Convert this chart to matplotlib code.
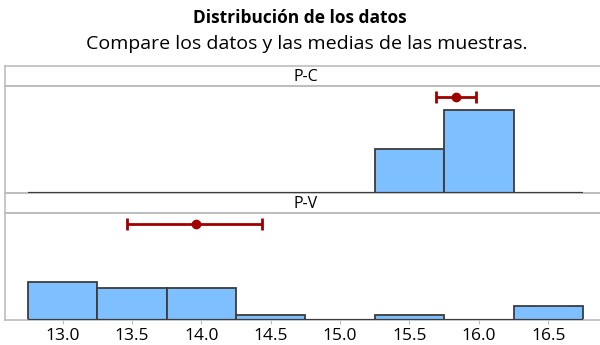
import numpy as np
import matplotlib
matplotlib.use("Agg")
import matplotlib.pyplot as plt

plt.rcParams['font.family'] = ['Open Sans', 'DejaVu Sans']

# bin centres shared by both groups (width 0.5)
bins = [13.0, 13.5, 14.0, 14.5, 15.0, 15.5, 16.0, 16.5]
groups = ['P-C', 'P-V']
# percentage of each group falling in every bin
pct_pc = [0, 0, 0, 0, 0, 34.8, 65.2, 0]
pct_pv = [30.0, 25.0, 25.0, 4.0, 0, 4.0, 0, 11.0]
# sample means and 95% CI for the mean
means = [15.835, 13.96]
ci_low = [15.693, 13.466]
ci_high = [15.982, 14.44]

tick_vals = [13.0, 13.5, 14.0, 14.5, 15.0, 15.5, 16.0, 16.5]
tick_labels = ['13.0', '13.5', '14.0', '14.5', '15.0', '15.5', '16.0', '16.5']

bar_color = '#7dbfff'
edge_color = '#3c3c3c'
ci_color = '#a00000'
frame_color = '#bdbdbd'

W, H = 600, 345
fig = plt.figure(figsize=(W / 100, H / 100), dpi=100)


def box(top, bottom, left=5, right=612):
    return [left / W, (H - bottom) / H, (right - left) / W, (bottom - top) / H]


xlim = (12.584, 16.96)
ylim = (0, 84.5)

fig.text(0.5, (H - 18) / H, 'Distribución de los datos', ha='center', va='center',
         fontsize=12.5, fontweight='bold')
fig.text(307 / W, (H - 44) / H, 'Compare los datos y las medias de las muestras.',
         ha='center', va='center', fontsize=14)

panels = [(66, 86, 193), (193, 213, 320)]
data = [pct_pc, pct_pv]

for i, (s_top, p_top, p_bot) in enumerate(panels):
    # strip with group name
    st = fig.add_axes(box(s_top, p_top))
    st.set_zorder(1)
    st.set_xlim(xlim)
    st.set_xticks([])
    st.set_yticks([])
    for sp in st.spines.values():
        sp.set_color(frame_color)
        sp.set_linewidth(1.2)
    st.text(14.75, 0.45, groups[i], transform=st.get_xaxis_transform(),
            ha='center', va='center', fontsize=11.5)

    ax = fig.add_axes(box(p_top, p_bot))
    ax.set_zorder(2)
    ax.patch.set_alpha(0)
    ax.set_xlim(xlim)
    ax.set_ylim(ylim)
    ax.hlines(0, 12.75, 16.75, color=edge_color, lw=1.6, zorder=3)
    ax.bar(bins, data[i], width=0.5, color=bar_color, edgecolor=edge_color,
           linewidth=1.3, zorder=2)
    ax.errorbar(means[i], 76, xerr=[[means[i] - ci_low[i]], [ci_high[i] - means[i]]],
                fmt='o', color=ci_color, ms=6, elinewidth=2, capsize=4, capthick=2,
                zorder=4)
    ax.set_yticks([])
    for sp in ax.spines.values():
        sp.set_color(frame_color)
        sp.set_linewidth(1.2)
    if i == 0:
        ax.set_xticks([])
    else:
        ax.set_xticks(tick_vals)
        ax.set_xticklabels(tick_labels, fontsize=12.5)
        ax.tick_params(axis='x', length=3, color=frame_color, pad=3)

fig.savefig('out.png', dpi=100)
